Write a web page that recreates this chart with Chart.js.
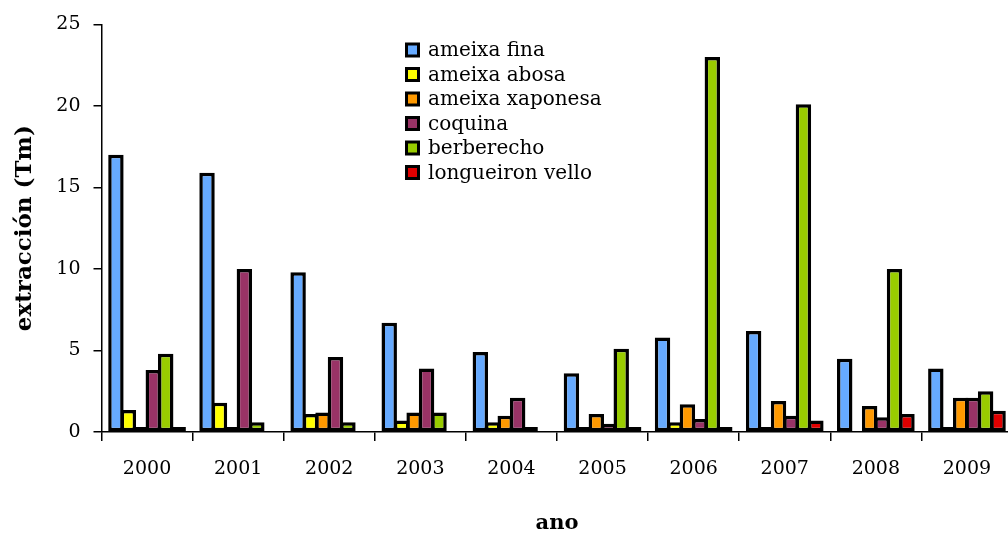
<!DOCTYPE html>
<html>
<head>
<meta charset="utf-8">
<script src="https://cdn.jsdelivr.net/npm/chart.js@4"></script>
<style>
  html, body { margin: 0; padding: 0; background: #fff; overflow: hidden; }
  #wrap { width: 1008px; height: 536px; overflow: hidden; }
</style>
</head>
<body>
<div id="wrap"><canvas id="capturaChart" width="1018" height="536"></canvas></div>
<script>
var anos = ['2000', '2001', '2002', '2003', '2004', '2005', '2006', '2007', '2008', '2009'];

// null = no bar drawn in the original
var ameixaFina       = [17.0, 15.9, 9.8, 6.7, 4.9, 3.6, 5.8, 6.2, 4.5, 3.9];
var ameixaAbosa      = [1.35, 1.8, 1.1, 0.7, 0.6, 0.1, 0.6, 0.3, null, 0.1];
var ameixaXaponesa   = [0.1, 0.1, 1.2, 1.2, 1.0, 1.1, 1.7, 1.9, 1.6, 2.1];
var coquina          = [3.8, 10.0, 4.6, 3.9, 2.1, 0.5, 0.8, 1.0, 0.9, 2.1];
var berberecho       = [4.8, 0.6, 0.6, 1.2, 0.1, 5.1, 23.0, 20.1, 10.0, 2.5];
var longueironVello  = [0.1, null, null, null, null, 0.1, 0.1, 0.7, 1.1, 1.3];

var yTicks = [0, 5, 10, 15, 20, 25];

var serif = '"DejaVu Serif", serif';

// legend drawn inside the plot, as in the original
var boxLegend = {
  id: 'boxLegend',
  afterDraw: function(chart) {
    var c = chart.ctx;
    var x = 405, y = 50, step = 24.5;
    c.save();
    c.font = '20px ' + serif;
    c.textBaseline = 'middle';
    chart.data.datasets.forEach(function(ds, i) {
      var yy = y + i * step;
      c.fillStyle = '#000';
      c.fillRect(x, yy - 7.5, 15, 15);
      c.fillStyle = ds.backgroundColor;
      c.fillRect(x + 3, yy - 4.5, 9, 9);
      c.fillStyle = '#000';
      c.fillText(ds.label, x + 23, yy + 1);
    });
    c.restore();
  }
};

new Chart(document.getElementById('capturaChart').getContext('2d'), {
  type: 'bar',
  data: {
    labels: anos,
    datasets: [
      { label: 'ameixa fina', data: ameixaFina, backgroundColor: '#66aaff' },
      { label: 'ameixa abosa', data: ameixaAbosa, backgroundColor: '#ffff00' },
      { label: 'ameixa xaponesa', data: ameixaXaponesa, backgroundColor: '#ff9900' },
      { label: 'coquina', data: coquina, backgroundColor: '#993366' },
      { label: 'berberecho', data: berberecho, backgroundColor: '#99cc00' },
      { label: 'longueiron vello', data: longueironVello, backgroundColor: '#e00000' }
    ]
  },
  options: {
    responsive: false,
    animation: false,
    layout: { padding: { top: 24, right: 5.5, left: 0, bottom: 0 } },
    datasets: {
      bar: {
        borderColor: '#000',
        borderWidth: 3.5,
        borderSkipped: false,
        minBarLength: 5,
        categoryPercentage: 0.82,
        barPercentage: 1.24
      }
    },
    plugins: {
      legend: { display: false },
      tooltip: { enabled: false }
    },
    scales: {
      x: {
        afterFit: function(s) { s.height = 104; },
        grid: {
          offset: true,
          drawOnChartArea: false,
          drawTicks: true,
          tickLength: 9,
          color: '#000',
          lineWidth: 1.5
        },
        border: { color: '#000', width: 1.5 },
        ticks: { color: '#000', font: { family: serif, size: 19 }, padding: 17 },
        title: {
          display: true,
          text: 'ano',
          color: '#000',
          font: { family: serif, size: 21, weight: 'bold' },
          padding: { top: 0, bottom: 0 }
        }
      },
      y: {
        min: 0,
        max: 25,
        afterFit: function(s) { s.width = 101.5; },
        afterBuildTicks: function(s) { s.ticks = yTicks.map(function(v) { return { value: v }; }); },
        grid: {
          drawOnChartArea: false,
          drawTicks: true,
          tickLength: 8,
          color: '#000',
          lineWidth: 1.5
        },
        border: { color: '#000', width: 1.5 },
        ticks: { color: '#000', font: { family: serif, size: 19 }, padding: 13 },
        title: {
          display: true,
          text: 'extracción (Tm)',
          color: '#000',
          font: { family: serif, size: 23, weight: 'bold' },
          padding: { top: 11, bottom: 0 }
        }
      }
    }
  },
  plugins: [boxLegend]
});
</script>
</body>
</html>
